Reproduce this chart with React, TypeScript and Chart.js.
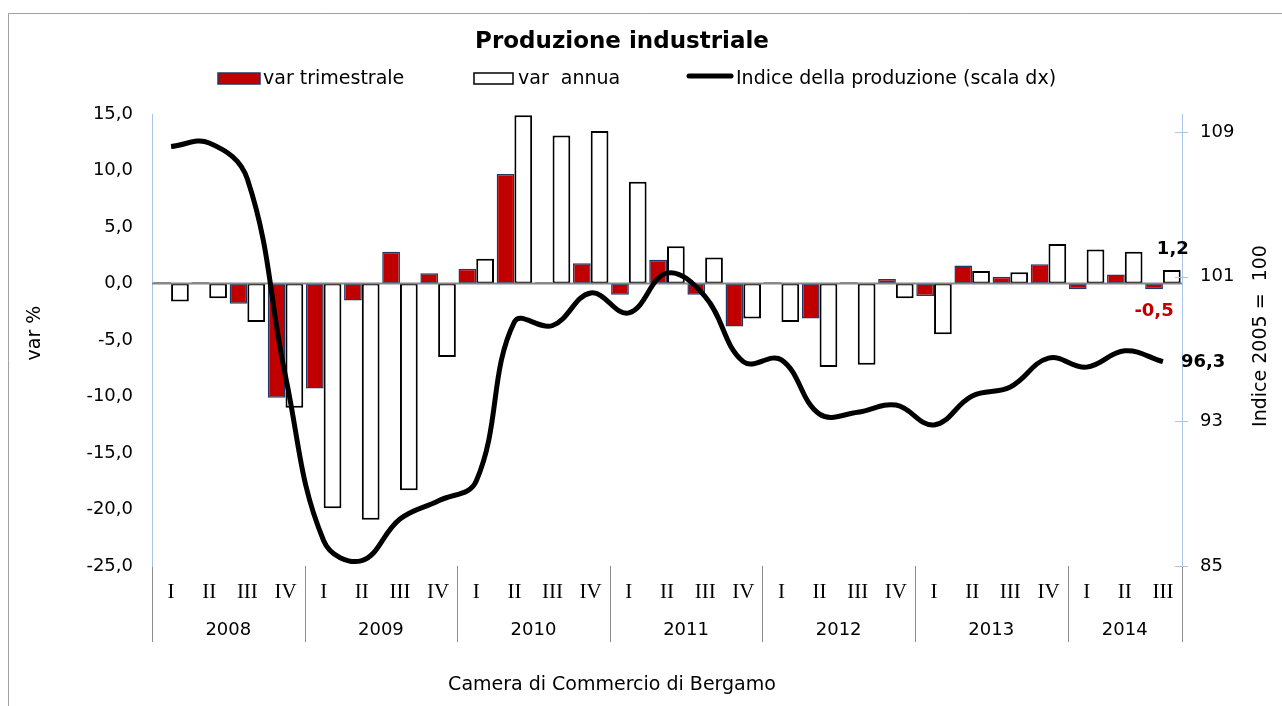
import React, { useEffect, useRef } from 'react';
import { Chart, registerables } from 'chart.js';

Chart.register(...registerables);

// ---------- data ----------
const years = ['2008', '2009', '2010', '2011', '2012', '2013', '2014'];
const quarterLabels = [
  'I', 'II', 'III', 'IV',
  'I', 'II', 'III', 'IV',
  'I', 'II', 'III', 'IV',
  'I', 'II', 'III', 'IV',
  'I', 'II', 'III', 'IV',
  'I', 'II', 'III', 'IV',
  'I', 'II', 'III',
];
const varTrimestrale = [
  0.1, 0.1, -1.8, -10.1,
  -9.3, -1.5, 2.8, 0.9,
  1.3, 9.7, 0.1, 1.8,
  -1.0, 2.1, -1.0, -3.8,
  0.1, -3.1, 0.1, 0.4,
  -1.1, 1.6, 0.6, 1.7,
  -0.5, 0.8, -0.5,
];
const varAnnua = [
  -1.6, -1.3, -3.4, -11.0,
  -19.9, -20.9, -18.3, -6.5,
  2.2, 14.9, 13.1, 13.5,
  9.0, 3.3, 2.3, -3.1,
  -3.4, -7.4, -7.2, -1.3,
  -4.5, 1.1, 1.0, 3.5,
  3.0, 2.8, 1.2,
];
const indice = [
  108.2, 108.4, 106.4, 95.5,
  86.4, 85.3, 87.6, 88.6,
  89.7, 98.5, 98.3, 100.1,
  99.0, 101.2, 99.9, 96.3,
  96.4, 93.4, 93.5, 93.9,
  92.8, 94.4, 94.9, 96.5,
  96.0, 96.9, 96.3,
];
const rightTicks = [85, 93, 101, 109];

const W = 1282;
const H = 706;
const SANS = '"DejaVu Sans", Verdana, sans-serif';
const SERIF = '"Liberation Serif", "Times New Roman", serif';
const RED = '#C00000';
const NAVY = '#1F3864';
const AXIS_BLUE = '#A9C4EB';

const fmt = (v: number, d: number) => v.toFixed(d).replace('.', ',');

const customPlugin = {
  id: 'customDecor',
  beforeDraw(chart: any) {
    const ctx = chart.ctx as CanvasRenderingContext2D;
    const area = chart.chartArea;
    const xs = chart.scales.x;
    ctx.save();
    ctx.fillStyle = '#ffffff';
    ctx.fillRect(0, 0, W, H);

    // outer border
    ctx.strokeStyle = '#a0a0a0';
    ctx.lineWidth = 1;
    ctx.beginPath();
    ctx.moveTo(8.5, H + 5);
    ctx.lineTo(8.5, 13.5);
    ctx.lineTo(W + 5, 13.5);
    ctx.stroke();

    // title
    ctx.fillStyle = '#000';
    ctx.textAlign = 'center';
    ctx.textBaseline = 'middle';
    ctx.font = `bold 23px ${SANS}`;
    ctx.fillText('Produzione industriale', 622, 42);

    // legend
    ctx.font = `19px ${SANS}`;
    ctx.textAlign = 'left';
    ctx.fillStyle = RED;
    ctx.fillRect(218, 73, 42, 11);
    ctx.strokeStyle = NAVY;
    ctx.lineWidth = 1.5;
    ctx.strokeRect(218, 73, 42, 11);
    ctx.fillStyle = '#000';
    ctx.fillText('var trimestrale', 263, 79);

    ctx.fillStyle = '#fff';
    ctx.fillRect(474, 73, 39, 11);
    ctx.strokeStyle = '#000';
    ctx.lineWidth = 1.5;
    ctx.strokeRect(474, 73, 39, 11);
    ctx.fillStyle = '#000';
    ctx.fillText('var  annua', 518, 79);

    ctx.strokeStyle = '#000';
    ctx.lineWidth = 5;
    ctx.lineCap = 'round';
    ctx.beginPath();
    ctx.moveTo(689, 76);
    ctx.lineTo(731, 76);
    ctx.stroke();
    ctx.lineCap = 'butt';
    ctx.fillText('Indice della produzione (scala dx)', 736, 79);

    // axis titles
    ctx.font = `19px ${SANS}`;
    ctx.textAlign = 'center';
    ctx.save();
    ctx.translate(35, 333);
    ctx.rotate(-Math.PI / 2);
    ctx.fillText('var %', 0, 0);
    ctx.restore();
    ctx.save();
    ctx.translate(1261, 336);
    ctx.rotate(-Math.PI / 2);
    ctx.fillText('Indice 2005 =  100', 0, 0);
    ctx.restore();

    // x axis: quarters
    ctx.font = `21px ${SERIF}`;
    ctx.textAlign = 'center';
    ctx.textBaseline = 'middle';
    quarterLabels.forEach((q, i) => {
      ctx.fillText(q, xs.getPixelForValue(i), 592);
    });

    // separators + years
    const catW = (area.right - area.left) / quarterLabels.length;
    ctx.strokeStyle = '#8c8c8c';
    ctx.lineWidth = 1;
    const bounds: number[] = [];
    for (let i = 0; i <= quarterLabels.length; i += 4) bounds.push(i);
    if (bounds[bounds.length - 1] !== quarterLabels.length) bounds.push(quarterLabels.length);
    bounds.forEach((b) => {
      const x = Math.round(area.left + b * catW) + 0.5;
      ctx.beginPath();
      ctx.moveTo(x, area.bottom);
      ctx.lineTo(x, 642);
      ctx.stroke();
    });
    ctx.font = `18px ${SANS}`;
    years.forEach((y, k) => {
      const a = area.left + bounds[k] * catW;
      const b = area.left + bounds[k + 1] * catW;
      ctx.fillText(y, (a + b) / 2, 630);
    });

    // footer
    ctx.font = `19px ${SANS}`;
    ctx.fillText('Camera di Commercio di Bergamo', 612, 685);
    ctx.restore();
  },
  afterDatasetDraw(chart: any, args: any) {
    if (args.index !== 0) return;
    const ctx = chart.ctx as CanvasRenderingContext2D;
    const area = chart.chartArea;
    const y0 = chart.scales.y.getPixelForValue(0);
    ctx.save();
    ctx.strokeStyle = '#868686';
    ctx.lineWidth = 2;
    ctx.beginPath();
    ctx.moveTo(area.left, y0);
    ctx.lineTo(area.right, y0);
    ctx.stroke();
    ctx.restore();
  },
  afterDatasetsDraw(chart: any) {
    const ctx = chart.ctx as CanvasRenderingContext2D;
    const area = chart.chartArea;
    const y1 = chart.scales.y1;
    ctx.save();
    // right axis tick marks
    ctx.strokeStyle = AXIS_BLUE;
    ctx.lineWidth = 1;
    rightTicks.forEach((v) => {
      const y = Math.round(y1.getPixelForValue(v)) + 0.5;
      ctx.beginPath();
      ctx.moveTo(area.right - 7, y);
      ctx.lineTo(area.right + 6, y);
      ctx.stroke();
    });

    // data labels for last values
    const last = quarterLabels.length - 1;
    const redBar = chart.getDatasetMeta(0).data[last];
    const whiteBar = chart.getDatasetMeta(1).data[last];
    const pt = chart.getDatasetMeta(2).data[last];
    ctx.font = `bold 18px ${SANS}`;
    ctx.textBaseline = 'middle';
    ctx.textAlign = 'center';
    ctx.fillStyle = '#000';
    ctx.fillText(fmt(varAnnua[last], 1), whiteBar.x + 1, whiteBar.y - 21);
    ctx.fillStyle = RED;
    ctx.fillText(fmt(varTrimestrale[last], 1), redBar.x, redBar.y + 22);
    ctx.fillStyle = '#000';
    ctx.textAlign = 'left';
    ctx.fillText(fmt(indice[last], 1), pt.x + 18, pt.y + 1);
    ctx.restore();
  },
};

export default function App() {
  const canvasRef = useRef<HTMLCanvasElement | null>(null);

  useEffect(() => {
    document.body.style.margin = '0';
    document.body.style.overflow = 'hidden';
    const canvas = canvasRef.current;
    if (!canvas) return;
    const chart = new Chart(canvas, {
      type: 'bar',
      data: {
        labels: quarterLabels,
        datasets: [
          {
            type: 'bar',
            label: 'var trimestrale',
            data: varTrimestrale,
            backgroundColor: RED,
            borderColor: NAVY,
            borderWidth: 1.5,
            borderSkipped: false,
            yAxisID: 'y',
            order: 1,
            categoryPercentage: 0.93,
            barPercentage: 1.0,
          },
          {
            type: 'bar',
            label: 'var  annua',
            data: varAnnua,
            backgroundColor: '#ffffff',
            borderColor: '#000000',
            borderWidth: 2,
            borderSkipped: false,
            yAxisID: 'y',
            order: 1,
            categoryPercentage: 0.93,
            barPercentage: 1.0,
          },
          {
            type: 'line',
            label: 'Indice della produzione (scala dx)',
            data: indice,
            borderColor: '#000000',
            borderWidth: 5,
            pointRadius: 0,
            tension: 0.4,
            fill: false,
            yAxisID: 'y1',
            order: 0,
          },
        ],
      } as any,
      options: {
        responsive: false,
        maintainAspectRatio: false,
        animation: false,
        devicePixelRatio: 1,
        layout: { padding: { top: 114, left: 0, right: 0, bottom: 0 } },
        plugins: {
          legend: { display: false },
          title: { display: false },
          tooltip: { enabled: false },
        },
        scales: {
          x: {
            type: 'category',
            offset: true,
            grid: { display: false, drawTicks: false },
            border: { display: false },
            ticks: { display: false },
            afterFit: (s: any) => {
              s.height = 140;
            },
          },
          y: {
            type: 'linear',
            position: 'left',
            min: -25,
            max: 15,
            ticks: {
              stepSize: 5,
              padding: 19,
              color: '#000',
              font: { family: SANS, size: 18 },
              callback: (v: any) => fmt(Number(v), 1),
            },
            grid: { display: false, drawTicks: false },
            border: { display: true, color: AXIS_BLUE, width: 1 },
            afterFit: (s: any) => {
              s.width = 152;
            },
          },
          y1: {
            type: 'linear',
            position: 'right',
            min: 85,
            max: 110,
            afterBuildTicks: (s: any) => {
              s.ticks = rightTicks.map((v) => ({ value: v }));
            },
            ticks: {
              padding: 18,
              color: '#000',
              font: { family: SANS, size: 18 },
              callback: (v: any) => String(v),
            },
            grid: { display: false, drawTicks: false },
            border: { display: true, color: AXIS_BLUE, width: 1 },
            afterFit: (s: any) => {
              s.width = 100;
            },
          },
        },
      } as any,
      plugins: [customPlugin],
    });
    return () => chart.destroy();
  }, []);

  return (
    <div style={{ position: 'fixed', left: 0, top: 0, width: W, height: H, background: '#fff' }}>
      <canvas ref={canvasRef} width={W} height={H} style={{ display: 'block', width: W, height: H }} />
    </div>
  );
}
